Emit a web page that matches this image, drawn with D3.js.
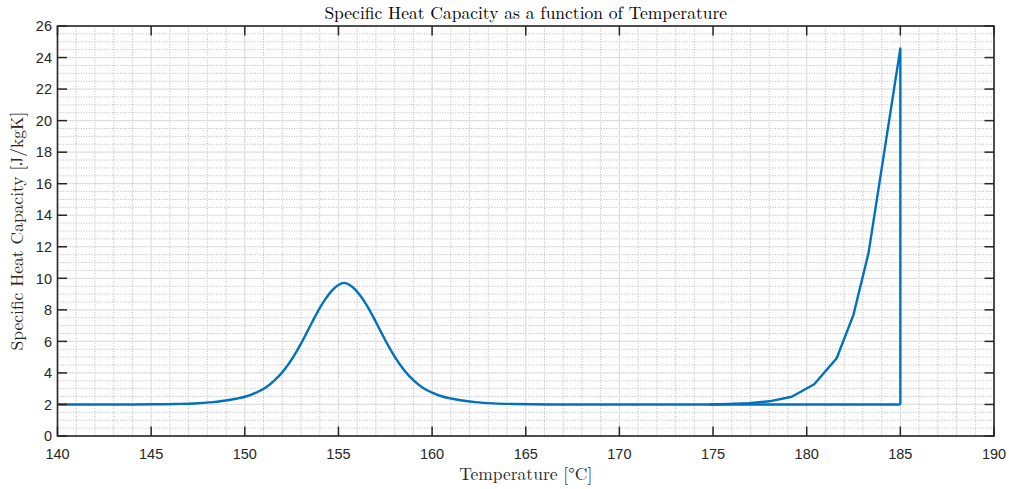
<!DOCTYPE html>
<html><head><meta charset="utf-8">
<script src="https://cdn.jsdelivr.net/npm/d3@7"></script>
<style>body{margin:0;background:#fff} svg{display:block}</style>
</head><body><svg id="c" width="1009" height="489"></svg>
<script>
// ---- data ----
const heatT = [140, 143, 145.3, 146.3, 147.3, 148.3, 149, 149.6, 150.1, 150.6, 151.1, 151.6, 152.1, 152.6, 153.0, 153.3, 153.6, 154.0, 154.3, 154.7, 155.0, 155.3, 155.6, 155.9, 156.3, 156.6, 157.0, 157.3, 157.6, 158.0, 158.5, 159.0, 159.5, 160.0, 160.5, 161.0, 161.6, 162.3, 163.3, 164.3, 165.3, 167, 175, 185];
const heatC = [2.0, 2.0, 2.01, 2.03, 2.06, 2.15, 2.25, 2.38, 2.52, 2.75, 3.06, 3.54, 4.19, 5.04, 5.86, 6.54, 7.23, 8.11, 8.68, 9.28, 9.58, 9.71, 9.58, 9.28, 8.68, 8.11, 7.23, 6.54, 5.86, 5.04, 4.19, 3.54, 3.06, 2.75, 2.52, 2.38, 2.25, 2.15, 2.07, 2.03, 2.01, 2.0, 2.0, 2.0];
const branchT = [185, 185, 183.3, 182.5, 181.6, 180.4, 179.2, 178.0, 176.9, 175.8, 174.8];
const branchC = [2.0, 24.58, 11.6, 7.7, 4.93, 3.28, 2.49, 2.2, 2.08, 2.03, 2.0];
const xTicks = [140, 145, 150, 155, 160, 165, 170, 175, 180, 185, 190];
const yTicks = [0, 2, 4, 6, 8, 10, 12, 14, 16, 18, 20, 22, 24, 26];
const titleText = "Specific Heat Capacity as a function of Temperature";
const xLabelText = "Temperature [°C]";
const yLabelText = "Specific Heat Capacity [J/kgK]";

const L = 57.5, R = 994, T = 26, B = 436;
const svg = d3.select("#c");
const x = d3.scaleLinear().domain([140, 190]).range([L, R]);
const y = d3.scaleLinear().domain([0, 26]).range([B, T]);
const axisCol = "#262626";

svg.append("rect").attr("width", 1009).attr("height", 489).attr("fill", "#fff");

// minor grid
const xMinor = d3.range(140, 190.001, 1).filter(v => v % 5 !== 0);
const yMinor = d3.range(0, 26.001, 0.5).filter(v => v % 2 !== 0);
const g = svg.append("g");
g.selectAll(".mx").data(xMinor).join("line")
  .attr("x1", d => x(d)).attr("x2", d => x(d)).attr("y1", T).attr("y2", B)
  .attr("stroke", "#b8b8b8").attr("stroke-width", 1).attr("stroke-dasharray", "1,1.6");
g.selectAll(".my").data(yMinor).join("line")
  .attr("y1", d => y(d)).attr("y2", d => y(d)).attr("x1", L).attr("x2", R)
  .attr("stroke", "#b8b8b8").attr("stroke-width", 1).attr("stroke-dasharray", "1,1.6");
// major grid
g.selectAll(".gx").data(xTicks).join("line")
  .attr("x1", d => x(d)).attr("x2", d => x(d)).attr("y1", T).attr("y2", B)
  .attr("stroke", "#dedede").attr("stroke-width", 1.2);
g.selectAll(".gy").data(yTicks).join("line")
  .attr("y1", d => y(d)).attr("y2", d => y(d)).attr("x1", L).attr("x2", R)
  .attr("stroke", "#dedede").attr("stroke-width", 1.2);

// data
const heat = heatT.map((t, i) => [t, heatC[i]]);
const branch = branchT.map((t, i) => [t, branchC[i]]);
svg.append("path").datum(heat)
  .attr("d", d3.line().x(d => x(d[0])).y(d => y(d[1])).curve(d3.curveMonotoneX))
  .attr("fill", "none").attr("stroke", "#0072BD").attr("stroke-width", 2.4)
  .attr("stroke-linejoin", "round");
svg.append("path").datum(branch)
  .attr("d", d3.line().x(d => x(d[0])).y(d => y(d[1])))
  .attr("fill", "none").attr("stroke", "#0072BD").attr("stroke-width", 2.4)
  .attr("stroke-linejoin", "round");

// axes box and ticks (inside, all four sides)
const tl = 9.5;
const ax = svg.append("g").attr("stroke", axisCol).attr("stroke-width", 1.5);
ax.selectAll(".tb").data(xTicks).join("line")
  .attr("x1", d => x(d)).attr("x2", d => x(d)).attr("y1", B).attr("y2", B - tl);
ax.selectAll(".tt").data(xTicks).join("line")
  .attr("x1", d => x(d)).attr("x2", d => x(d)).attr("y1", T).attr("y2", T + tl);
ax.selectAll(".tlft").data(yTicks).join("line")
  .attr("y1", d => y(d)).attr("y2", d => y(d)).attr("x1", L).attr("x2", L + tl);
ax.selectAll(".trt").data(yTicks).join("line")
  .attr("y1", d => y(d)).attr("y2", d => y(d)).attr("x1", R).attr("x2", R - tl);
svg.append("rect").attr("x", L).attr("y", T).attr("width", R - L).attr("height", B - T)
  .attr("fill", "none").attr("stroke", axisCol).attr("stroke-width", 1.6);

// tick labels
svg.append("g").selectAll("text").data(xTicks).join("text")
  .attr("x", d => x(d)).attr("y", 458.5).attr("text-anchor", "middle")
  .attr("font-family", "Liberation Sans, Arial, sans-serif").attr("font-size", 14.5)
  .attr("fill", axisCol).text(d => d);
svg.append("g").selectAll("text").data(yTicks).join("text")
  .attr("x", 52).attr("y", d => y(d)).attr("dy", "0.36em").attr("text-anchor", "end")
  .attr("font-family", "Liberation Sans, Arial, sans-serif").attr("font-size", 14.5)
  .attr("fill", axisCol).text(d => d);

// title and labels
const serif = "Latin Modern Roman, CMU Serif, Liberation Serif, Times New Roman, serif";
svg.append("text").attr("x", (L + R) / 2).attr("y", 18.5).attr("text-anchor", "middle")
  .attr("font-family", serif).attr("font-size", 17.5).attr("fill", "#000").text(titleText);
svg.append("text").attr("x", (L + R) / 2).attr("y", 480).attr("text-anchor", "middle")
  .attr("font-family", serif).attr("font-size", 17.5).attr("fill", axisCol).text(xLabelText);
svg.append("text").attr("transform", `translate(22.5,${(T + B) / 2}) rotate(-90)`)
  .attr("text-anchor", "middle")
  .attr("font-family", serif).attr("font-size", 17.5).attr("fill", axisCol).text(yLabelText);
</script>
</body></html>
